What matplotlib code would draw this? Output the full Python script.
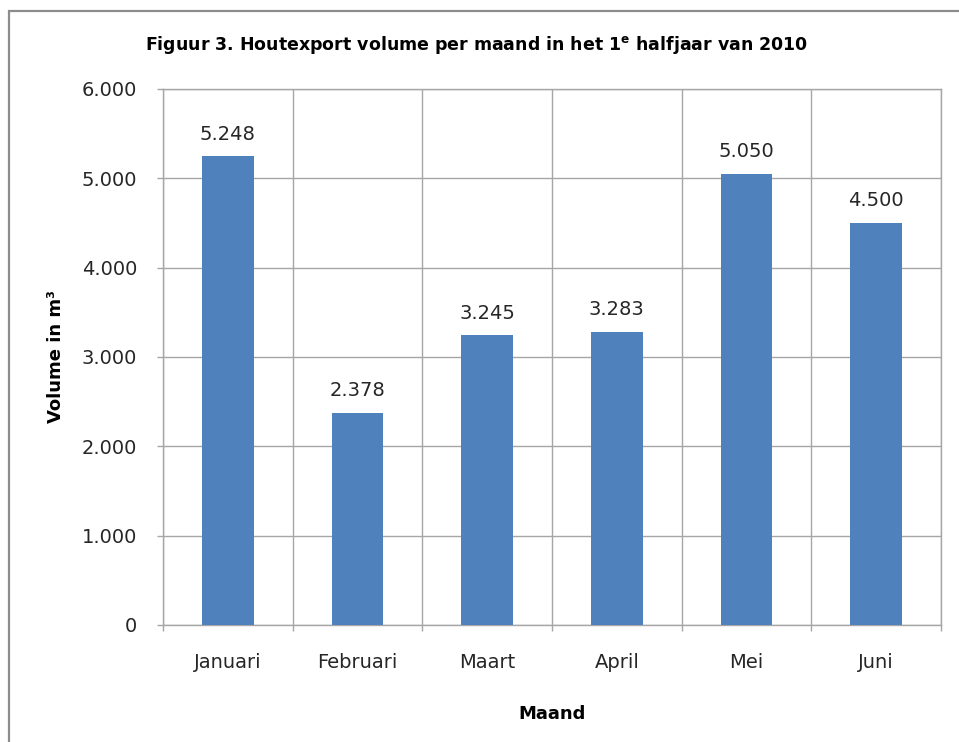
import matplotlib

matplotlib.use("Agg")

import matplotlib.pyplot as plt
from matplotlib.patches import Rectangle
from matplotlib.ticker import FuncFormatter, MultipleLocator
import numpy as np

# data
MONTHS = ["Januari", "Februari", "Maart", "April", "Mei", "Juni"]
VOLUMES = [5248, 2378, 3245, 3283, 5050, 4500]
Y_MAX = 6000
Y_STEP = 1000

TITLE = r"Figuur 3. Houtexport volume per maand in het 1$^{\mathbf{e}}$ halfjaar van 2010"
XLABEL = "Maand"
YLABEL = "Volume in m³"

BAR_COLOR = "#4F81BD"
GRID_COLOR = "#A6A6A6"
TEXT_COLOR = "#262626"
FONT = "DejaVu Sans"


def dutch_thousands(value, _pos=None):
    return f"{int(round(value)):,}".replace(",", ".")


def main() -> None:
    plt.rcParams.update(
        {
            "font.family": [FONT],
            "mathtext.fontset": "custom",
            "mathtext.rm": FONT,
            "mathtext.bf": f"{FONT}:bold",
            "font.size": 14,
        }
    )

    W, H = 959, 742
    fig = plt.figure(figsize=(W / 100, H / 100), dpi=100)
    fig.patch.set_facecolor("white")

    # outer chart frame (only left and top edges fall inside the image)
    fig.patches.append(
        Rectangle(
            (9 / W, -0.2), 2.0, (742 - 11) / H + 0.2,
            transform=fig.transFigure, fill=False,
            edgecolor="#8C8C8C", linewidth=1.6, zorder=0,
        )
    )

    left, right, top, bottom = 163, 941, 89, 625
    ax = fig.add_axes([left / W, 1 - bottom / H, (right - left) / W, (bottom - top) / H])

    x = np.arange(len(MONTHS))
    bars = ax.bar(x, VOLUMES, width=0.4, color=BAR_COLOR, zorder=3)

    for rect, val in zip(bars, VOLUMES):
        ax.annotate(
            dutch_thousands(val),
            (rect.get_x() + rect.get_width() / 2, rect.get_height()),
            xytext=(0, 9), textcoords="offset points",
            ha="center", va="bottom", fontsize=14, color=TEXT_COLOR,
        )

    ax.set_xlim(-0.5, len(MONTHS) - 0.5)
    ax.set_ylim(0, Y_MAX)
    ax.yaxis.set_major_locator(MultipleLocator(Y_STEP))
    ax.yaxis.set_major_formatter(FuncFormatter(dutch_thousands))

    ax.set_xticks(x)
    ax.set_xticklabels(MONTHS)
    ax.set_xticks(np.arange(-0.5, len(MONTHS)), minor=True)
    ax.tick_params(axis="x", which="major", length=0, pad=20, labelsize=14, labelcolor=TEXT_COLOR)
    ax.tick_params(axis="x", which="minor", length=4.5, width=1, color=GRID_COLOR)
    ax.tick_params(axis="y", length=4.5, width=1, color=GRID_COLOR, pad=14,
                   labelsize=14, labelcolor=TEXT_COLOR)

    ax.grid(True, axis="y", which="major", color=GRID_COLOR, linewidth=1, zorder=0)
    ax.grid(True, axis="x", which="minor", color=GRID_COLOR, linewidth=1, zorder=0)
    ax.set_axisbelow(True)
    for spine in ax.spines.values():
        spine.set_color(GRID_COLOR)
        spine.set_linewidth(1)

    ax.set_xlabel(XLABEL, fontsize=13, fontweight="bold", labelpad=24, color="black")
    ax.set_ylabel(YLABEL, fontsize=13, fontweight="bold", labelpad=12, color="black")

    fig.text(477 / W, 1 - 45 / H, TITLE, ha="center", va="center",
             fontsize=12.5, fontweight="bold", color="black")

    fig.savefig("out.png", dpi=100)
    plt.close(fig)


if __name__ == "__main__":
    main()
